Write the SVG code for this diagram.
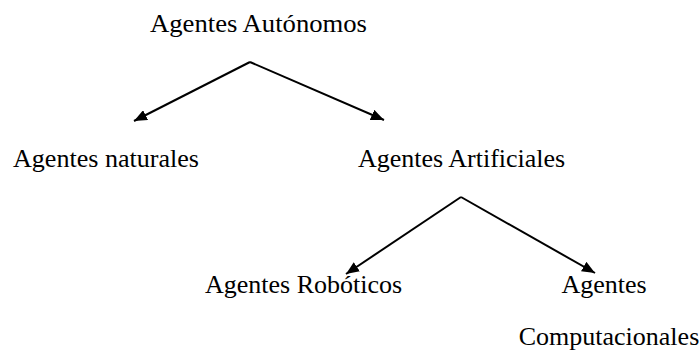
<svg xmlns="http://www.w3.org/2000/svg" width="699" height="355" viewBox="0 0 699 355">
<defs>
<marker id="ah" viewBox="0 0 13 11" refX="13" refY="5.5" markerWidth="13" markerHeight="11" markerUnits="userSpaceOnUse" orient="auto">
<path d="M0,0 L13,5.5 L0,11 Z" fill="#000"/>
</marker>
<style>
text{font-family:"Liberation Serif","Times New Roman",serif;font-size:26px;fill:#000}
.c{fill:none;stroke:#000;stroke-width:2;marker-end:url(#ah)}
</style>
</defs>
<rect width="699" height="355" fill="#fff"/>
<g id="n-autonomos"><text x="150" y="32" textLength="217" lengthAdjust="spacingAndGlyphs">Agentes Autónomos</text></g>
<g id="n-naturales"><text x="13" y="167" textLength="186" lengthAdjust="spacingAndGlyphs">Agentes naturales</text></g>
<g id="n-artificiales"><text x="358" y="167">Agentes Artificiales</text></g>
<g id="n-roboticos"><text x="205" y="293">Agentes Robóticos</text></g>
<g id="n-computacionales"><text x="604" y="293" text-anchor="middle">Agentes</text><text x="609" y="345" text-anchor="middle">Computacionales</text></g>
<g id="connectors">
<path class="c" d="M250,62 L134,121"/>
<path class="c" d="M250,62 L384,120"/>
<path class="c" d="M461,197 L346,274"/>
<path class="c" d="M461,197 L595,273"/>
</g>
</svg>
